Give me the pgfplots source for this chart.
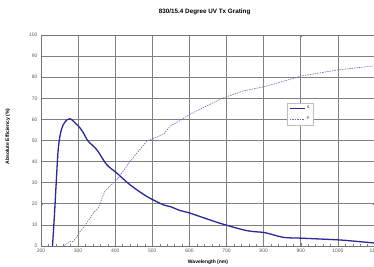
\documentclass[border=0pt]{standalone}
\usepackage{pgfplots}
\pgfplotsset{compat=1.18}
\usepackage{fontspec}
\setmainfont{Liberation Sans}
\usetikzlibrary{calc}
\definecolor{cone}{RGB}{40,40,150}
\definecolor{ctwo}{RGB}{105,105,185}
\begin{document}
\begin{tikzpicture}
\begin{axis}[name=ax, scale only axis, width=334pt, height=211pt,
 xmin=200, xmax=1100, ymin=0, ymax=100,
 xtick={200,300,...,1100}, ytick={0,10,...,100},
 minor x tick num=4, minor y tick num=1,
 grid=major, major grid style={black!50, line width=0.7pt},
 axis line style={black!55, line width=0.7pt},
 tick style={black!50, line width=0.4pt},
 major tick length=2.5pt, minor tick length=1.5pt,
 ticklabel style={font=\fontsize{5}{6}\selectfont, text=gray!70!black},
 /pgf/number format/assume math mode=true,
 /pgf/number format/1000 sep={},
 xticklabel style={yshift=1pt},
 xlabel={Wavelength (nm)}, ylabel={Absolute Efficiency (\%)},
 label style={font=\fontsize{5}{6}\selectfont\bfseries},
 xlabel style={at={(axis description cs:0.5,0)}, anchor=north, yshift=-10pt},
 ylabel style={at={(axis description cs:-0.099,0.52)}, anchor=center},
 title={830/15.4 Degree UV Tx Grating},
 every axis title shift=0pt,
 title style={font=\fontsize{6.3}{7}\selectfont\bfseries, at={(axis description cs:0.49,1)}, anchor=south, yshift=17pt},
 legend style={at={(axis description cs:0.737,0.679)}, anchor=north west, draw=gray!50, fill=white, font=\fontsize{3.5}{4}\selectfont, inner sep=1.5pt, row sep=3pt},
 legend cell align=left,
 legend image code/.code={\draw[#1] (0pt,0pt) -- (15pt,0pt);},
]
\addplot[cone, line width=1.3pt, smooth] coordinates {
(231,0) (236,14) (241,30) (246,45) (252,53) (260,57.5) (270,59.8) (278,60.3) (287,59.2)
(305,56) (314,53.7) (327,49.7) (350,45.7) (377,38.6) (404,34.6) (440,29)
(485,23.5) (530,19.5) (548,18.7) (575,16.8) (601,15.6) (682,10.8) (754,7.3)
(804,6.3) (853,4.1) (903,3.7) (1001,2.9) (1050,2.2) (1100,1.4)
};
\addlegendentry{S}
\addplot[ctwo, line width=0.6pt, dashed, dash pattern=on 1.5pt off 1pt] coordinates {
(260,0) (270,1.2) (278,2) (287,2.2) (295,4) (305,6.8) (323,10.8) (341,15.6)
(354,18) (372,25.9) (390,29) (408,32.2) (440,40.1) (485,49.7) (530,52.9)
(548,56.8) (575,59.5) (601,62.4) (687,69.9) (745,73.5) (804,75.6)
(903,80.6) (1001,83.5) (1100,85.4)
};
\addlegendentry{P}
\end{axis}
\pgfresetboundingbox
\path ($(ax.south west)+(-41pt,-21pt)$) rectangle ($(ax.north east)+(-1pt,35pt)$);
\end{tikzpicture}
\end{document}
